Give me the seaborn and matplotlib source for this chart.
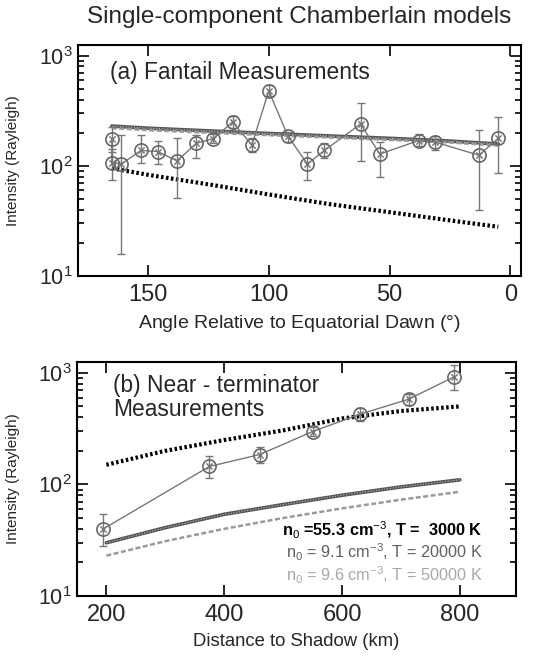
import numpy as np
import pandas as pd
import matplotlib
matplotlib.use("Agg")
import matplotlib.pyplot as plt
import seaborn as sns
from matplotlib.ticker import LogLocator, NullLocator
from matplotlib.transforms import blended_transform_factory

# ---- data: (a) Fantail measurements ----
fan_angle = [165, 165, 161, 153, 146, 138, 130, 123, 115, 107, 100, 92, 84, 77, 62, 54, 38, 31, 13, 5]
fan_int = [177, 107, 104, 138, 135, 111, 160, 177, 250, 155, 480, 185, 104, 138, 240, 128, 170, 164, 125, 178]
fan_lo = [133, 75, 16, 107, 104, 51, 118, 160, 220, 135, 430, 165, 75, 118, 111, 80, 150, 140, 40, 87]
fan_hi = [227, 143, 190, 190, 170, 178, 190, 195, 285, 178, 540, 205, 133, 160, 372, 165, 196, 185, 210, 278]

# model curves, panel (a)
mod_angle = [165, 150, 125, 100, 75, 50, 25, 5]
fan_m3000 = [95, 83, 68, 55, 45, 38, 32, 28]
fan_m20000 = [230, 220, 208, 197, 187, 178, 168, 158]
fan_m50000 = [220, 211, 200, 190, 181, 172, 163, 153]

# ---- data: (b) near-terminator measurements ----
term_dist = [195, 375, 460, 550, 630, 713, 790]
term_int = [40, 145, 185, 298, 425, 580, 920]
term_lo = [28, 115, 155, 270, 370, 510, 700]
term_hi = [54, 180, 215, 330, 480, 650, 1180]

mod_dist = [200, 300, 400, 500, 600, 700, 800]
term_m3000 = [150, 200, 250, 305, 390, 455, 500]
term_m20000 = [30, 41, 54, 66, 80, 95, 110]
term_m50000 = [23, 31, 40, 50, 61, 73, 86]

labels = [r"n$_0$ =55.3 cm$^{-3}$, T =  3000 K",
          r"n$_0$ = 9.1 cm$^{-3}$, T = 20000 K",
          r"n$_0$ = 9.6 cm$^{-3}$, T = 50000 K"]
label_y = [39, 24.5, 15.3]
model_colors = ["black", "#606060", "#a8a8a8"]

sns.set_style("ticks")
plt.rcParams['font.family'] = ['Liberation Sans', 'DejaVu Sans']
plt.rcParams['mathtext.fontset'] = 'custom'
plt.rcParams['mathtext.rm'] = 'Liberation Sans'
plt.rcParams['mathtext.it'] = 'Liberation Sans'
plt.rcParams['mathtext.bf'] = 'Liberation Sans:bold'

fig = plt.figure(figsize=(5.34, 6.58), dpi=100)
ax1 = fig.add_axes([0.146, 0.5805, 0.830, 0.351])
ax2 = fig.add_axes([0.144, 0.0942, 0.822, 0.3556])


def draw_models(ax, x, m3000, m20000, m50000):
    df = pd.DataFrame({"x": x, "a": m3000, "b": m20000, "c": m50000})
    sns.lineplot(data=df, x="x", y="a", ax=ax, color="black", lw=3,
                 linestyle=(0, (0.6, 0.6)), estimator=None, sort=False)
    sns.lineplot(data=df, x="x", y="b", ax=ax, color="#555555", lw=2.6,
                 estimator=None, sort=False)
    sns.lineplot(data=df, x="x", y="b", ax=ax, color="#bbbbbb", lw=0.8,
                 linestyle=(0, (1, 1.5)), estimator=None, sort=False)
    sns.lineplot(data=df, x="x", y="c", ax=ax, color="#9a9a9a", lw=1.8,
                 linestyle=(0, (2, 1)), estimator=None, sort=False)


def draw_meas(ax, x, y, lo, hi):
    df = pd.DataFrame({"x": x, "y": y})
    yerr = [np.array(y) - np.array(lo), np.array(hi) - np.array(y)]
    ax.errorbar(x, y, yerr=yerr, fmt="none", ecolor="#777777", elinewidth=1,
                capsize=3, capthick=1, linestyle=":")
    sns.lineplot(data=df, x="x", y="y", ax=ax, color="#777777", lw=1,
                 marker="o", markersize=9.5, markerfacecolor="none",
                 markeredgecolor="#666666", markeredgewidth=1.2,
                 estimator=None, sort=False)
    sns.scatterplot(data=df, x="x", y="y", ax=ax, marker="x", s=20,
                    color="#707070", linewidth=1, legend=False)


draw_models(ax1, mod_angle, fan_m3000, fan_m20000, fan_m50000)
draw_meas(ax1, fan_angle, fan_int, fan_lo, fan_hi)
draw_models(ax2, mod_dist, term_m3000, term_m20000, term_m50000)
draw_meas(ax2, term_dist, term_int, term_lo, term_hi)

for ax in (ax1, ax2):
    ax.set_yscale("log")
    ax.set_ylim(10, 1250)
    ax.yaxis.set_major_locator(LogLocator(base=10))
    ax.yaxis.set_minor_locator(LogLocator(base=10, subs=np.arange(2, 10)))
    ax.xaxis.set_minor_locator(NullLocator())
    ax.tick_params(which="both", direction="in", top=True, right=True,
                   width=1.2, color="black")
    ax.tick_params(axis="x", labelsize=17, pad=6)
    ax.tick_params(axis="y", labelsize=15.5)
    ax.tick_params(which="major", length=8)
    ax.tick_params(which="minor", length=4)
    ax.set_ylabel("Intensity (Rayleigh)", fontsize=11)
    ax.yaxis.set_label_coords(-0.13, 0.5)
    for s in ax.spines.values():
        s.set_linewidth(1.5)
        s.set_color("black")

ax1.set_xlim(179, -4.5)
ax1.set_xticks([150, 100, 50, 0])
ax1.set_xlabel("Angle Relative to Equatorial Dawn ($\\degree$)", fontsize=14, labelpad=5)
ax1.text(0.072, 0.883, "(a) Fantail Measurements", transform=ax1.transAxes,
         fontsize=16.4, ha="left", va="center")

ax2.set_xlim(150, 895)
ax2.set_xticks([200, 400, 600, 800])
ax2.set_xlabel("Distance to Shadow (km)", fontsize=13.3, labelpad=5)
ax2.text(0.082, 0.85, "(b) Near - terminator\nMeasurements", transform=ax2.transAxes,
         fontsize=16.4, ha="left", va="center", linespacing=1.05)

trans = blended_transform_factory(ax2.transData, ax2.transData)
for i, (lab, col, yy) in enumerate(zip(labels, model_colors, label_y)):
    ax2.text(838, yy, lab, transform=trans, ha="right",
             va="center", fontsize=11.7, color=col,
             fontweight="bold" if i == 0 else "normal")

fig.text(0.56, 0.974, "Single-component Chamberlain models", ha="center",
         va="center", fontsize=17.5)

fig.savefig("out.png", dpi=100)
